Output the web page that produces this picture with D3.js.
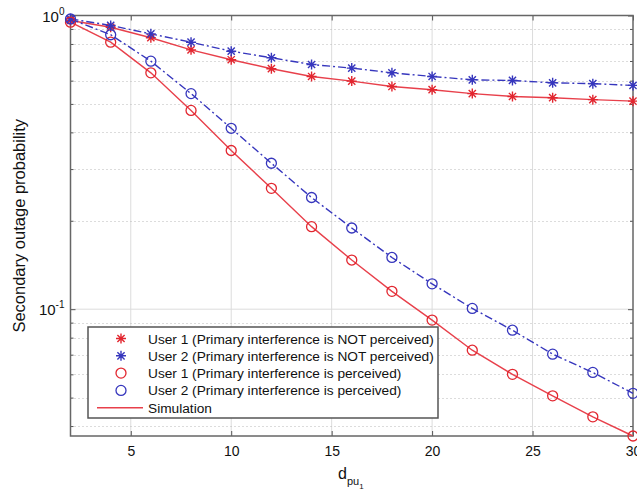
<!DOCTYPE html>
<html>
<head>
<meta charset="utf-8">
<script src="https://cdn.jsdelivr.net/npm/d3@7"></script>
<style>
  body { margin: 0; background: #fff; }
  svg { display: block; font-family: "Liberation Sans", Arial, sans-serif; }
</style>
</head>
<body>
<svg id="chart" width="637" height="491"></svg>
<script>
// data
var dpu = [2, 4, 6, 8, 10, 12, 14, 16, 18, 20, 22, 24, 26, 28, 30];
var user1NotPerceived = [0.962, 0.912, 0.840, 0.764, 0.707, 0.659, 0.620, 0.598, 0.573, 0.559, 0.542, 0.530, 0.525, 0.517, 0.511];
var user2NotPerceived = [0.974, 0.925, 0.866, 0.811, 0.756, 0.718, 0.681, 0.662, 0.638, 0.620, 0.604, 0.601, 0.590, 0.586, 0.578];
var user1Perceived = [0.949, 0.811, 0.638, 0.475, 0.347, 0.258, 0.191, 0.147, 0.115, 0.0918, 0.0725, 0.0600, 0.0507, 0.0430, 0.0370];
var user2Perceived = [0.973, 0.860, 0.699, 0.542, 0.413, 0.314, 0.240, 0.189, 0.150, 0.122, 0.1006, 0.0848, 0.0703, 0.0609, 0.0517];
var xTicks = [5, 10, 15, 20, 25, 30];
var yMajor = [0.1, 1];
var yMinor = [0.04, 0.05, 0.06, 0.07, 0.08, 0.09, 0.2, 0.3, 0.4, 0.5, 0.6, 0.7, 0.8, 0.9];
var legendLabels = [
  'User 1 (Primary interference is NOT perceived)',
  'User 2 (Primary interference is NOT perceived)',
  'User 1 (Primary interference is perceived)',
  'User 2 (Primary interference is perceived)',
  'Simulation'
];

var red = '#e2262f', redLine = '#e8404b', blue = '#3636bd';

// init
var svg = d3.select('#chart');
var plotLeft = 70.5, plotRight = 633, plotTop = 15.5, plotBottom = 436;

var x = d3.scaleLinear().domain([2, 30]).range([plotLeft, plotRight]);
var y = d3.scaleLog().domain([0.037, 1]).range([plotBottom, plotTop]);

// grid
var grid = svg.append('g');
grid.selectAll('.vgrid')
    .data(xTicks.slice(0, -1)).enter()
    .append('line')
        .attr('x1', d => x(d)).attr('x2', d => x(d))
        .attr('y1', plotTop).attr('y2', plotBottom)
        .attr('stroke', '#dcdcdc').attr('stroke-width', 1);
grid.selectAll('.hgrid')
    .data([0.1]).enter()
    .append('line')
        .attr('x1', plotLeft).attr('x2', plotRight)
        .attr('y1', d => y(d)).attr('y2', d => y(d))
        .attr('stroke', '#dcdcdc').attr('stroke-width', 1);
grid.selectAll('.mgrid')
    .data(yMinor).enter()
    .append('line')
        .attr('x1', plotLeft).attr('x2', plotRight)
        .attr('y1', d => Math.round(y(d)) + 0.5).attr('y2', d => Math.round(y(d)) + 0.5)
        .attr('stroke', '#b8b8b8').attr('stroke-width', 1)
        .attr('stroke-dasharray', '1,3');

// axes (ticks point inward)
function styleAxis(g) {
    g.select('.domain').remove();
    g.selectAll('line').attr('stroke', '#555');
    g.selectAll('text').attr('fill', '#111').style('font-size', '14px').style('font-family', '"Liberation Sans", Arial, sans-serif');
}
svg.append('g')
    .attr('transform', 'translate(0,' + plotBottom + ')')
    .call(d3.axisBottom(x).tickValues(xTicks).tickSizeInner(-5).tickSizeOuter(0).tickPadding(10).tickFormat(d3.format('d')))
    .call(styleAxis);
svg.append('g')
    .attr('transform', 'translate(0,' + plotTop + ')')
    .call(d3.axisTop(x).tickValues(xTicks).tickSizeInner(-5).tickSizeOuter(0).tickFormat(''))
    .call(styleAxis);
[d3.axisLeft, d3.axisRight].forEach((ax, i) => {
    var xpos = i == 0 ? plotLeft : plotRight;
    svg.append('g')
        .attr('transform', 'translate(' + xpos + ',0)')
        .call(ax(y).tickValues(yMajor).tickSizeInner(-5).tickSizeOuter(0).tickFormat(''))
        .call(styleAxis);
    svg.append('g')
        .attr('transform', 'translate(' + xpos + ',0)')
        .call(ax(y).tickValues(yMinor).tickSizeInner(-3).tickSizeOuter(0).tickFormat(''))
        .call(styleAxis);
});

// y tick labels as powers of ten
var ylab = svg.selectAll('.ylab')
    .data(yMajor).enter()
    .append('text')
        .attr('x', plotLeft - 6)
        .attr('y', d => y(d) + 6)
        .attr('text-anchor', 'end')
        .style('font-size', '15px')
        .attr('fill', '#111');
ylab.append('tspan').text('10');
ylab.append('tspan')
    .attr('dy', -7)
    .style('font-size', '10px')
    .text(d => Math.round(Math.log10(d)));

// box
svg.append('rect')
    .attr('x', plotLeft).attr('y', plotTop)
    .attr('width', plotRight - plotLeft).attr('height', plotBottom - plotTop)
    .attr('fill', 'none').attr('stroke', '#666').attr('stroke-width', 1.5);

// series
var series = [
    {values: user1NotPerceived, color: red, line: redLine, dash: null, marker: 'star'},
    {values: user2NotPerceived, color: blue, line: blue, dash: '8,3,2,3', marker: 'star'},
    {values: user1Perceived, color: red, line: redLine, dash: null, marker: 'circle'},
    {values: user2Perceived, color: blue, line: blue, dash: '8,3,2,3', marker: 'circle'}
];
var line = d3.line().x(d => x(d[0])).y(d => y(d[1]));

function drawMarker(g, kind, color) {
    if (kind == 'circle') {
        g.append('circle').attr('r', 5).attr('fill', 'none')
            .attr('stroke', color).attr('stroke-width', 1.3);
    } else {
        var r = 5, q = 3.6;
        g.append('path')
            .attr('d', 'M0,' + -r + 'V' + r + 'M' + -r + ',0H' + r +
                       'M' + -q + ',' + -q + 'L' + q + ',' + q + 'M' + -q + ',' + q + 'L' + q + ',' + -q)
            .attr('stroke', color).attr('stroke-width', 1.4).attr('fill', 'none');
    }
}

var plot = svg.append('g');
series.forEach(s => {
    var pts = dpu.map((d, i) => [d, s.values[i]]);
    plot.append('path')
        .attr('d', line(pts))
        .attr('fill', 'none')
        .attr('stroke', s.line)
        .attr('stroke-width', 1.4)
        .attr('stroke-dasharray', s.dash);
});
series.forEach(s => {
    var pts = dpu.map((d, i) => [d, s.values[i]]);
    plot.selectAll(null)
        .data(pts).enter()
        .append('g')
            .attr('transform', d => 'translate(' + x(d[0]) + ',' + y(d[1]) + ')')
            .each(function() { drawMarker(d3.select(this), s.marker, s.color); });
});

// legend
var legend = svg.append('g').attr('transform', 'translate(88,327)');
legend.append('rect')
    .attr('x', 0).attr('y', 0)
    .attr('width', 350).attr('height', 91)
    .attr('fill', '#fff').attr('stroke', '#555').attr('stroke-width', 1.5);
var rows = legend.selectAll('.row')
    .data(legendLabels).enter()
    .append('g')
        .attr('transform', (d, i) => 'translate(0,' + (11.5 + i * 17.3) + ')');
rows.append('text')
    .attr('x', 60)
    .attr('y', 5)
    .style('font-size', '13.7px')
    .attr('fill', '#111')
    .text(d => d);
rows.each(function(d, i) {
    var g = d3.select(this);
    if (i < 4) {
        var m = g.append('g').attr('transform', 'translate(33,0)');
        drawMarker(m, series[i].marker, series[i].color);
    } else {
        g.append('line')
            .attr('x1', 9).attr('x2', 55)
            .attr('stroke', redLine).attr('stroke-width', 1.4);
    }
});

// axis labels
var xl = svg.append('text')
    .attr('x', 338).attr('y', 479)
    .style('font-size', '16px')
    .attr('fill', '#111');
xl.append('tspan').text('d');
xl.append('tspan').attr('dy', 6).style('font-size', '11px').text('pu');
xl.append('tspan').attr('dy', 4).style('font-size', '8px').text('1');

svg.append('text')
    .attr('transform', 'translate(25,' + ((plotTop + plotBottom) / 2) + ') rotate(-90)')
    .attr('text-anchor', 'middle')
    .style('font-size', '16.5px')
    .attr('fill', '#111')
    .text('Secondary outage probability');
</script>
</body>
</html>
